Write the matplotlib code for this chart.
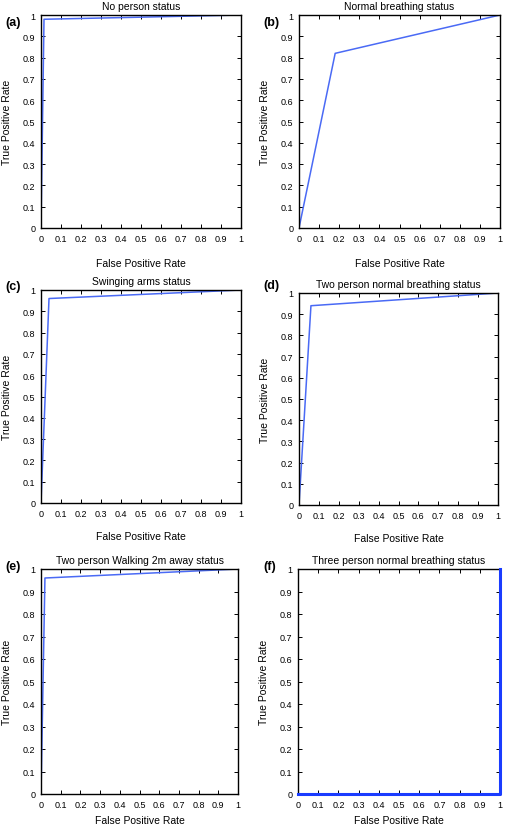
import matplotlib
matplotlib.use("Agg")
import matplotlib.pyplot as plt
import numpy as np

plt.rcParams['font.family'] = ['Liberation Sans', 'DejaVu Sans']

# ROC data for each status
titles = ["No person status", "Normal breathing status", "Swinging arms status",
          "Two person normal breathing status", "Two person Walking 2m away status",
          "Three person normal breathing status"]
panel_labels = ["(a)", "(b)", "(c)", "(d)", "(e)", "(f)"]
fpr_a = [0, 0.015, 1]
tpr_a = [0, 0.98, 1]
fpr_b = [0, 0.18, 1]
tpr_b = [0, 0.82, 1]
fpr_c = [0, 0.04, 1]
tpr_c = [0, 0.96, 1]
fpr_d = [0, 0.06, 1]
tpr_d = [0, 0.94, 1]
fpr_e = [0, 0.02, 1]
tpr_e = [0, 0.96, 1]
fpr_f = [0, 1, 1]
tpr_f = [0, 0, 1]
fprs = [fpr_a, fpr_b, fpr_c, fpr_d, fpr_e, fpr_f]
tprs = [tpr_a, tpr_b, tpr_c, tpr_d, tpr_e, tpr_f]
ticks = np.round(np.arange(0, 1.01, 0.1), 1)
tick_labels = ["0", "0.1", "0.2", "0.3", "0.4", "0.5", "0.6", "0.7", "0.8", "0.9", "1"]

W, H = 505, 829
fig = plt.figure(figsize=(W / 100, H / 100), dpi=100)

# axes boxes in pixels: left, top, right, bottom
boxes = [(41, 16, 241, 229), (299, 16, 500, 229),
         (41, 291, 241, 504), (299, 294, 498, 506),
         (41, 570, 238, 795), (298, 570, 500, 795)]
lab_pos = [(5, 23), (263, 23), (5, 287), (263, 286), (5, 567), (263, 567)]
xlab_pad = [11, 11, 10, 10, 5, 5]

for i in range(6):
    l, t, r, b = boxes[i]
    ax = fig.add_axes([l / W, 1 - b / H, (r - l) / W, (b - t) / H])
    if i == 5:
        ax.plot(fprs[i], tprs[i], color="#1a3cff", lw=2.2, clip_on=False, zorder=5)
    else:
        ax.plot(fprs[i], tprs[i], color="#4a6af5", lw=1.1)
    ax.set_xlim(0, 1)
    ax.set_ylim(0, 1)
    ax.set_xticks(ticks)
    ax.set_xticklabels(tick_labels)
    ax.set_yticks(ticks)
    ax.set_yticklabels(tick_labels)
    ax.tick_params(direction="in", top=True, right=True, length=3, width=0.7,
                   labelsize=6.5, pad=4)
    for s in ax.spines.values():
        s.set_linewidth(1.0)
    ax.set_title(titles[i], fontsize=7.5, pad=4)
    ax.set_xlabel("False Positive Rate", fontsize=7.5, labelpad=xlab_pad[i])
    ax.set_ylabel("True Positive Rate", fontsize=7.5, labelpad=8)
    fig.text(lab_pos[i][0] / W, 1 - lab_pos[i][1] / H, panel_labels[i],
             fontsize=9, fontweight="bold", va="center", ha="left")

fig.savefig("out.png", dpi=100)
